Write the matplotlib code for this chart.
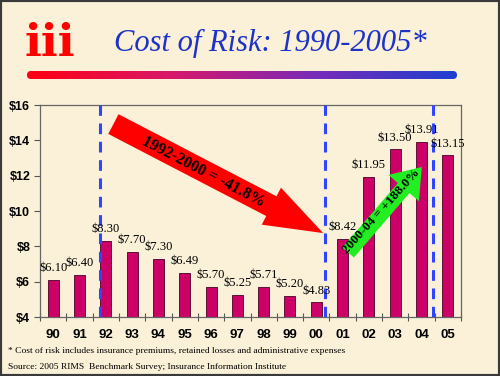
import matplotlib
matplotlib.use("Agg")
import matplotlib.pyplot as plt
import numpy as np
from matplotlib.patches import FancyBboxPatch, Rectangle
from matplotlib.colors import LinearSegmentedColormap

# ---- data ----
years = ["90", "91", "92", "93", "94", "95", "96", "97", "98", "99", "00", "01", "02", "03", "04", "05"]
cost = [6.10, 6.40, 8.30, 7.70, 7.30, 6.49, 5.70, 5.25, 5.71, 5.20, 4.83, 8.42, 11.95, 13.50, 13.91, 13.15]
value_labels = ["$6.10", "$6.40", "$8.30", "$7.70", "$7.30", "$6.49", "$5.70", "$5.25", "$5.71",
                "$5.20", "$4.83", "$8.42", "$11.95", "$13.50", "$13.91", "$13.15"]
y_ticks = [4, 6, 8, 10, 12, 14, 16]
y_ticklabels = ["$4", "$6", "$8", "$10", "$12", "$14", "$16"]
title = "Cost of Risk: 1990-2005*"
down_label = "1992-2000 = -41.8%"
up_label = "2000-04 = +188.0%"
footnote = "* Cost of risk includes insurance premiums, retained losses and administrative expenses"
source = "Source: 2005 RIMS  Benchmark Survey; Insurance Information Institute"

BG = "#FAF1D8"
BAR = "#CC0066"
DASH = "#2F45FF"
SERIF = "Liberation Serif"
SANS = "Liberation Sans"

fig = plt.figure(figsize=(5, 3.76), dpi=100, facecolor=BG)
W, H = 500, 376

def fx(px):
    return px / W

def fy(py):
    return 1 - py / H

# frame
fig.patches.append(Rectangle((0, 0), 1, 1, transform=fig.transFigure, fill=False,
                             edgecolor="#3A3A3A", linewidth=3, zorder=10))

# ---- main axes ----
ax = fig.add_axes([fx(40), fy(317), fx(461) - fx(40), fy(105) - fy(317)])
ax.set_facecolor("none")
x = np.arange(len(years))
ax.bar(x, cost, width=0.42, color=BAR, edgecolor="#4A0025", linewidth=0.6, zorder=2)
ax.set_xlim(-0.5, len(years) - 0.5)
ax.set_ylim(4, 16)
ax.set_yticks(y_ticks)
ax.set_yticklabels(y_ticklabels, fontfamily=SANS, fontweight="bold", fontsize=9)
ax.set_xticks(x)
ax.set_xticklabels(years, fontfamily=SANS, fontweight="bold", fontsize=9.5)
ax.tick_params(axis="x", length=0, pad=9)
ax.set_xticks(np.arange(-0.5, len(years)), minor=True)
ax.tick_params(axis="x", which="minor", length=6, direction="inout", color="#555555", width=0.8)
ax.tick_params(axis="y", length=4, direction="out", color="#555555", width=0.8, pad=3)
for s in ax.spines.values():
    s.set_color("#666666")
    s.set_linewidth(0.9)

for xi, v, lab in zip(x, cost, value_labels):
    ax.annotate(lab, (xi, v), xytext=(0, 4), textcoords="offset points", ha="center",
                va="bottom", fontfamily=SERIF, fontsize=9, color="black", zorder=5)

# dashed separators
for xv in [1.78, 10.34, 14.43]:
    ax.axvline(xv, color=DASH, linewidth=2.2, linestyle=(0, (3.5, 2.5)), zorder=3)

# arrows
ax.annotate("", xy=(10.26, 8.75), xytext=(2.29, 14.92),
            arrowprops=dict(arrowstyle="simple,head_length=42,head_width=30,tail_width=16",
                            mutation_scale=1, fc="#FF0000", ec="none", shrinkA=0, shrinkB=0),
            zorder=4)
ax.text(5.7, 12.2, down_label, rotation=-27.5, rotation_mode="anchor", ha="center", va="center",
        fontfamily=SERIF, fontweight="bold", fontsize=11.5, color="black", zorder=6)

ax.annotate("", xy=(14.01, 12.49), xytext=(11.21, 7.65),
            arrowprops=dict(arrowstyle="simple,head_length=20,head_width=29,tail_width=11",
                            mutation_scale=1, fc="#22EE22", ec="none", shrinkA=0, shrinkB=0),
            zorder=4)
ax.text(12.46, 9.96, up_label, rotation=48, rotation_mode="anchor", ha="center", va="center",
        fontfamily=SERIF, fontweight="bold", fontsize=9.5, color="black", zorder=6)

# ---- header ----
fig.text(fx(270), fy(43), title, ha="center", va="center", fontfamily=SERIF, style="italic",
         fontsize=22, color="#1C32C8")
fig.text(fx(50), fy(44), "iii", ha="center", va="center", fontfamily="DejaVu Serif",
         fontweight="bold", fontsize=32, color="#FF0000")

gax = fig.add_axes([fx(27), fy(79), fx(457) - fx(27), fy(71) - fy(79)])
gax.set_xlim(0, 430)
gax.set_ylim(0, 8)
gax.axis("off")
cmap = LinearSegmentedColormap.from_list("g", ["#FF0010", "#D8186A", "#7A2AB8", "#1E3FD0"])
grad = np.linspace(0, 1, 256)[None, :]
im = gax.imshow(grad, cmap=cmap, extent=(0, 430, 0, 8), aspect="auto")
clip = FancyBboxPatch((0, 0), 430, 8, boxstyle="round,pad=0,rounding_size=4",
                      transform=gax.transData, facecolor="none", edgecolor="none")
gax.add_patch(clip)
im.set_clip_path(clip)

# ---- footer ----
fig.text(fx(8), fy(351), footnote, ha="left", va="center", fontfamily=SERIF, fontsize=6.8)
fig.text(fx(8), fy(367), source, ha="left", va="center", fontfamily=SERIF, fontsize=6.8)

fig.savefig("out.png", dpi=100, facecolor=BG)
